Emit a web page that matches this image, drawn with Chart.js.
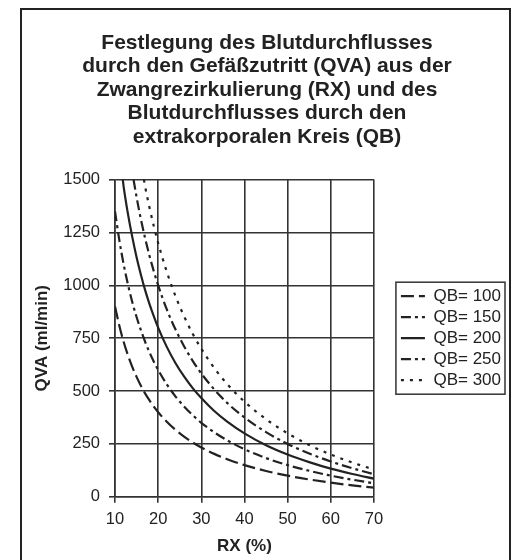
<!DOCTYPE html>
<html>
<head>
<meta charset="utf-8">
<script src="https://cdn.jsdelivr.net/npm/chart.js@4/dist/chart.umd.min.js"></script>
<style>
  html, body { margin: 0; padding: 0; background: #ffffff; width: 520px; height: 560px; overflow: hidden; }
  #frame { position: absolute; left: 20px; top: 8px; width: 487px; height: 600px; border: 2px solid #222; }
  #c { position: absolute; left: 0; top: 0; }
</style>
</head>
<body>
<div id="frame"></div>
<canvas id="c" width="520" height="560"></canvas>
<script>
// ---- data ----
const titleLines = [
  'Festlegung des Blutdurchflusses',
  'durch den Gefäßzutritt (QVA) aus der',
  'Zwangrezirkulierung (RX) und des',
  'Blutdurchflusses durch den',
  'extrakorporalen Kreis (QB)'
];
const xTitle = 'RX (%)';
const yTitle = 'QVA (ml/min)';
const seriesNames = ['QB= 100', 'QB= 150', 'QB= 200', 'QB= 250', 'QB= 300'];

const rxQB100 = [10,11,12,13,14,15,16,17,18,19,20,22,24,26,28,30,33,36,40,45,50,55,60,65,70];
const qvaQB100 = [900,809,733,669,614,567,525,488,456,426,400,355,317,285,257,233,203,178,150,122,100,82,67,54,43];

const rxQB150 = [10,11,12,13,14,15,16,17,18,19,20,22,24,26,28,30,33,36,40,45,50,55,60,65,70];
const qvaQB150 = [1350,1214,1100,1004,921,850,788,732,683,639,600,532,475,427,386,350,305,267,225,183,150,123,100,81,64];

const rxQB200 = [11.8,12,13,14,15,16,17,18,19,20,22,24,26,28,30,33,36,40,45,50,55,60,65,70];
const qvaQB200 = [1500,1467,1338,1229,1133,1050,976,911,853,800,709,633,569,514,467,406,356,300,244,200,164,133,108,86];

const rxQB250 = [14.3,15,16,17,18,19,20,22,24,26,28,30,33,36,40,45,50,55,60,65,70];
const qvaQB250 = [1500,1417,1313,1221,1139,1066,1000,886,792,712,643,583,508,444,375,306,250,205,167,135,107];

const rxQB300 = [16.7,17,18,19,20,22,24,26,28,30,33,36,40,45,50,55,60,65,70];
const qvaQB300 = [1500,1465,1367,1279,1200,1064,950,854,771,700,609,533,450,367,300,245,200,162,129];

const xTicks = [10,20,30,40,50,60,70];
const yTicks = [0,250,500,750,1000,1250,1500];

// ---- styles ----
const ink = '#222222';
const gridInk = '#333333';
const FONT = '"Liberation Sans", Arial, Helvetica, sans-serif';
const dashes = [[13,5],[10,4,3,4],[],[10,4,3,4],[3,6]];

const xs = [rxQB100, rxQB150, rxQB200, rxQB250, rxQB300];
const ys = [qvaQB100, qvaQB150, qvaQB200, qvaQB250, qvaQB300];

const datasets = seriesNames.map((name, i) => ({
  label: name,
  data: xs[i].map((x, j) => ({x: x, y: ys[i][j]})),
  borderColor: ink,
  backgroundColor: ink,
  borderWidth: 2.2,
  borderDash: dashes[i],
  pointRadius: 0,
  pointHoverRadius: 0,
  fill: false,
  cubicInterpolationMode: 'monotone'
}));

const legendFrame = {
  id: 'legendFrame',
  afterDraw(chart) {
    const lg = chart.legend;
    if (!lg || !lg.legendHitBoxes || !lg.legendHitBoxes.length) return;
    const hb = lg.legendHitBoxes;
    let left = Infinity, right = -Infinity, top = Infinity, bottom = -Infinity;
    hb.forEach(b => {
      left = Math.min(left, b.left); right = Math.max(right, b.left + b.width);
      top = Math.min(top, b.top); bottom = Math.max(bottom, b.top + b.height);
    });
    const ctx = chart.ctx;
    ctx.save();
    ctx.strokeStyle = '#333';
    ctx.lineWidth = 1.5;
    ctx.setLineDash([]);
    ctx.strokeRect(left - 5, top - 5.5, (right - left) + 9, (bottom - top) + 11);
    ctx.restore();
  }
};

new Chart(document.getElementById('c'), {
  type: 'line',
  data: { datasets: datasets },
  options: {
    responsive: false,
    animation: false,
    devicePixelRatio: 1,
    layout: { padding: { left: 23, right: 9, top: 31, bottom: 0 } },
    plugins: {
      title: {
        display: true,
        text: titleLines,
        color: ink,
        font: { family: FONT, size: 21, weight: 'bold', lineHeight: 1.12 },
        padding: { top: 0, bottom: 31 }
      },
      legend: {
        display: true,
        position: 'right',
        align: 'center',
        fullSize: false,
        maxWidth: 200,
        labels: {
          color: ink,
          font: { family: FONT, size: 17 },
          boxWidth: 24,
          padding: 4,
          usePointStyle: true,
          pointStyleWidth: 24,
          generateLabels(chart) {
            return chart.data.datasets.map((ds, i) => ({
              text: ds.label,
              fillStyle: ink,
              strokeStyle: ink,
              lineWidth: 2.2,
              lineDash: ds.borderDash,
              pointStyle: 'line',
              hidden: false,
              datasetIndex: i,
              fontColor: ink
            }));
          }
        },
        onClick() {}
      },
      tooltip: { enabled: false }
    },
    scales: {
      x: {
        type: 'linear',
        min: 10, max: 70,
        afterBuildTicks(scale) { scale.ticks = xTicks.map(v => ({value: v})); },
        ticks: { color: ink, font: { family: FONT, size: 16.5 }, padding: 7, maxRotation: 0, callback: v => String(v) },
        grid: { color: gridInk, lineWidth: 1.6, tickLength: 6, tickColor: gridInk },
        border: { color: gridInk, width: 1.6 },
        title: { display: true, text: xTitle, color: ink, font: { family: FONT, size: 17, weight: 'bold' }, padding: { top: 0, bottom: 3 } }
      },
      y: {
        type: 'linear',
        min: 0, max: 1500,
        afterBuildTicks(scale) { scale.ticks = yTicks.map(v => ({value: v})); },
        afterFit(scale) { scale.width = 92; },
        ticks: { color: ink, font: { family: FONT, size: 16.5 }, padding: 9, callback: v => String(v) },
        grid: { color: gridInk, lineWidth: 1.6, tickLength: 6, tickColor: gridInk },
        border: { color: gridInk, width: 1.6 },
        title: { display: true, text: yTitle, color: ink, font: { family: FONT, size: 17, weight: 'bold' }, padding: { top: 9, bottom: 12 } }
      },
      spacer: {
        type: 'linear',
        position: 'right',
        display: true,
        grid: { display: false },
        border: { display: false },
        ticks: { display: false },
        afterFit(scale) { scale.width = 23; }
      }
    }
  },
  plugins: [legendFrame]
});
</script>
</body>
</html>
